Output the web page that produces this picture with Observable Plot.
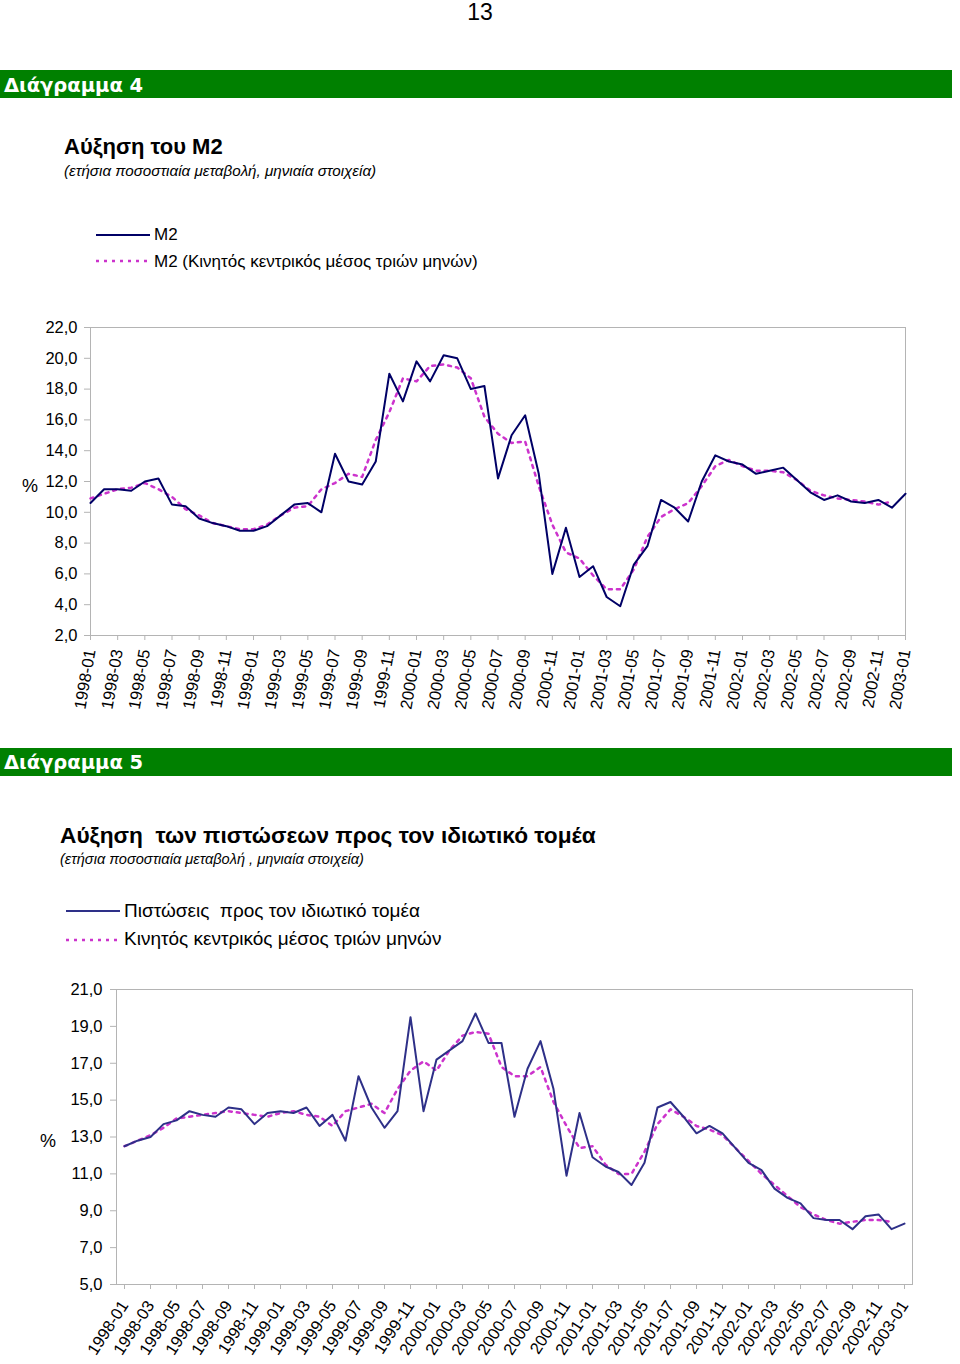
<!DOCTYPE html>
<html><head><meta charset="utf-8">
<script src="https://cdn.jsdelivr.net/npm/d3@7"></script>
<script src="https://cdn.jsdelivr.net/npm/@observablehq/plot@0.6"></script>
<style>
body{margin:0;background:#fff;font-family:"Liberation Sans",Arial,sans-serif;color:#000;}
#page{position:relative;width:960px;height:1364px;overflow:hidden;background:#fff;}
.t{position:absolute;white-space:nowrap;line-height:1;}
.bar{position:absolute;left:0;width:952px;height:28px;background:#008000;}
.bar span{position:absolute;left:4px;color:#fff;font-weight:bold;font-size:19.5px;line-height:1;font-family:"DejaVu Sans",sans-serif;}
.chart{position:absolute;left:0;}
svg.leg{position:absolute;overflow:visible;}
</style></head><body><div id="page">
<div class="t" style="left:0;width:960px;text-align:center;top:1px;font-size:23px;">13</div>

<div class="bar" style="top:70px;"><span style="top:5.5px;">Διάγραμμα 4</span></div>
<div class="t" style="left:64px;top:135.5px;font-size:22px;font-weight:bold;">Αύξηση του Μ2</div>
<div class="t" style="left:64px;top:163.2px;font-size:15.2px;font-style:italic;">(ετήσια ποσοστιαία μεταβολή, μηνιαία στοιχεία)</div>
<svg class="leg" style="left:0;top:0;" width="1" height="1">
  <line x1="96" x2="150" y1="235" y2="235" stroke="#000066" stroke-width="2"/>
  <line x1="96" x2="150" y1="261" y2="261" stroke="#cc33cc" stroke-width="2.5" stroke-dasharray="3,5"/>
  <line x1="66" x2="120" y1="911" y2="911" stroke="#2e3088" stroke-width="2"/>
  <line x1="66" x2="120" y1="940" y2="940" stroke="#cc33cc" stroke-width="2.5" stroke-dasharray="3,5"/>
</svg>
<div class="t" style="left:154px;top:226.3px;font-size:17px;">Μ2</div>
<div class="t" style="left:154px;top:253.3px;font-size:17px;">Μ2 (Κινητός κεντρικός μέσος τριών μηνών)</div>
<div class="t" style="left:22px;top:477px;font-size:18px;">%</div>

<div class="bar" style="top:748px;"><span style="top:5.3px;">Διάγραμμα 5</span></div>
<div class="t" style="left:60px;top:824px;font-size:22.7px;font-weight:bold;white-space:pre;">Αύξηση  των πιστώσεων προς τον ιδιωτικό τομέα</div>
<div class="t" style="left:60px;top:851.5px;font-size:14.6px;font-style:italic;">(ετήσια ποσοστιαία μεταβολή , μηνιαία στοιχεία)</div>
<div class="t" style="left:124px;top:901.2px;font-size:19px;white-space:pre;">Πιστώσεις  προς τον ιδιωτικό τομέα</div>
<div class="t" style="left:124px;top:929px;font-size:19px;">Κινητός κεντρικός μέσος τριών μηνών</div>
<div class="t" style="left:40px;top:1132px;font-size:18px;">%</div>

<div id="c1" class="chart" style="top:300px;"></div>
<div id="c2" class="chart" style="top:960px;"></div>
</div>
<script>
const months = ["1998-01","1998-02","1998-03","1998-04","1998-05","1998-06","1998-07","1998-08","1998-09","1998-10","1998-11","1998-12",
"1999-01","1999-02","1999-03","1999-04","1999-05","1999-06","1999-07","1999-08","1999-09","1999-10","1999-11","1999-12",
"2000-01","2000-02","2000-03","2000-04","2000-05","2000-06","2000-07","2000-08","2000-09","2000-10","2000-11","2000-12",
"2001-01","2001-02","2001-03","2001-04","2001-05","2001-06","2001-07","2001-08","2001-09","2001-10","2001-11","2001-12",
"2002-01","2002-02","2002-03","2002-04","2002-05","2002-06","2002-07","2002-08","2002-09","2002-10","2002-11","2002-12",
"2003-01"];
const tickLabels = ["1998-01","1998-03","1998-05","1998-07","1998-09","1998-11","1999-01","1999-03","1999-05","1999-07","1999-09","1999-11",
"2000-01","2000-03","2000-05","2000-07","2000-09","2000-11","2001-01","2001-03","2001-05","2001-07","2001-09","2001-11",
"2002-01","2002-03","2002-05","2002-07","2002-09","2002-11","2003-01"];

// Chart 4: M2 growth
const m2 = [10.6, 11.5, 11.5, 11.4, 12.0, 12.2, 10.5, 10.4, 9.6, 9.3,
 9.1, 8.8, 8.8, 9.1, 9.8, 10.5, 10.6, 10.0, 13.8, 12.0,
 11.8, 13.3, 19.0, 17.2, 19.8, 18.5, 20.2, 20.0, 18.0, 18.2,
 12.2, 15.0, 16.3, 12.5, 6.0, 9.0, 5.8, 6.5, 4.5, 3.9,
 6.6, 7.8, 10.8, 10.3, 9.4, 12.0, 13.7, 13.3, 13.1, 12.5,
 12.7, 12.9, 12.1, 11.3, 10.8, 11.1, 10.7, 10.6, 10.8, 10.3,
 11.2];
const m2ma = [10.9, 11.2, 11.5, 11.6, 11.9, 11.5, 11.0, 10.2, 9.8, 9.3,
 9.1, 8.9, 8.9, 9.2, 9.8, 10.3, 10.4, 11.5, 11.9, 12.5,
 12.3, 14.7, 16.5, 18.7, 18.5, 19.5, 19.6, 19.4, 18.7, 16.2,
 15.1, 14.5, 14.6, 11.7, 9.2, 7.4, 7.0, 5.9, 5.0, 5.0,
 6.3, 8.4, 9.7, 10.2, 10.6, 11.7, 13.0, 13.4, 13.0, 12.7,
 12.7, 12.6, 12.1, 11.4, 11.1, 10.9, 10.8, 10.7, 10.5, 10.7];
const yTicks1 = [2, 4, 6, 8, 10, 12, 14, 16, 18, 20, 22];

// Chart 5: credit to the private sector
const credit = [12.5, 12.8, 13.0, 13.7, 13.9, 14.4, 14.2, 14.1, 14.6, 14.5,
 13.7, 14.3, 14.4, 14.3, 14.6, 13.6, 14.2, 12.8, 16.3, 14.6,
 13.5, 14.4, 19.5, 14.4, 17.2, 17.7, 18.2, 19.7, 18.1, 18.1,
 14.1, 16.7, 18.2, 15.6, 10.9, 14.3, 11.9, 11.4, 11.1, 10.4,
 11.6, 14.6, 14.9, 14.1, 13.2, 13.6, 13.2, 12.4, 11.6, 11.2,
 10.2, 9.7, 9.4, 8.6, 8.5, 8.5, 8.0, 8.7, 8.8, 8.0,
 8.3];
const creditMa = [12.5, 12.8, 13.1, 13.5, 14.0, 14.1, 14.2, 14.3, 14.4, 14.3,
 14.2, 14.1, 14.3, 14.4, 14.2, 14.1, 13.6, 14.4, 14.6, 14.8,
 14.3, 15.6, 16.6, 17.1, 16.6, 17.7, 18.5, 18.7, 18.6, 16.8,
 16.3, 16.3, 16.8, 14.9, 13.6, 12.4, 12.5, 11.5, 11.0, 11.0,
 12.2, 13.7, 14.5, 14.1, 13.6, 13.4, 13.1, 12.4, 11.7, 11.0,
 10.4, 9.8, 9.2, 8.8, 8.5, 8.3, 8.4, 8.5, 8.5, 8.4];
const yTicks2 = [5, 7, 9, 11, 13, 15, 17, 19, 21];

const rows = (vals) => vals.map((v, i) => ({month: months[i], value: v}));
const fmt = d => d.toFixed(1).replace(".", ",");
const FONT = '"Liberation Sans", Arial, sans-serif';
const GRID = "#b4b4b4";

function chart({data, ma, yDomain, yTicks, lineColor, marginLeft, marginRight, marginTop, marginBottom, height, rotate, yPad, xPad, xFont}) {
  return Plot.plot({
    width: 960, height, marginLeft, marginRight, marginTop, marginBottom,
    style: {fontFamily: FONT, fontSize: "16px", color: "#000", background: "transparent", overflow: "visible"},
    x: {type: "point", domain: months, padding: 0},
    y: {domain: yDomain},
    marks: [
      Plot.frame({stroke: GRID}),
      Plot.axisY({ticks: yTicks, tickFormat: fmt, tickSize: 6, tickPadding: yPad, stroke: GRID, fill: "#000", label: null, fontSize: 16.5}),
      Plot.axisX({ticks: tickLabels, tickSize: 5, tickPadding: xPad, tickRotate: rotate, stroke: GRID, fill: "#000", label: null, fontSize: xFont}),
      Plot.line(rows(ma), {x: "month", y: "value", stroke: "#cc33cc", strokeWidth: 2.5, strokeDasharray: "3,5"}),
      Plot.line(rows(data), {x: "month", y: "value", stroke: lineColor, strokeWidth: 2})
    ]
  });
}

document.getElementById("c1").append(chart({
  data: m2, ma: m2ma, yDomain: [2, 22], yTicks: yTicks1, lineColor: "#000066",
  marginLeft: 90, marginRight: 55, marginTop: 27, marginBottom: 90, height: 425, rotate: -80, yPad: 7, xPad: 9, xFont: 16.5
}));
document.getElementById("c2").append(chart({
  data: credit, ma: creditMa, yDomain: [5, 21], yTicks: yTicks2, lineColor: "#2e3088",
  marginLeft: 116, marginRight: 48, marginTop: 29, marginBottom: 80, height: 404, rotate: -57, yPad: 8, xPad: 13, xFont: 16.5
}));
</script>
</body></html>
